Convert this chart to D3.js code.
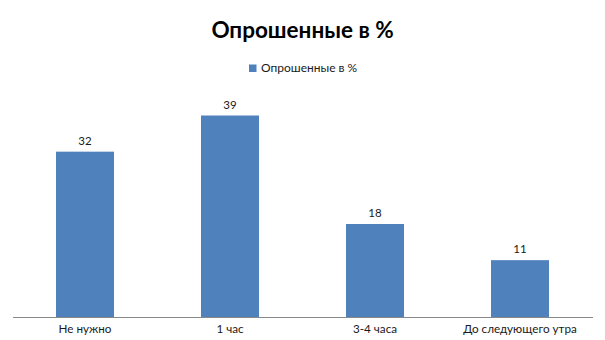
<!DOCTYPE html>
<html>
<head>
<meta charset="utf-8">
<script src="https://cdn.jsdelivr.net/npm/d3@7"></script>
<style>
  body { margin: 0; background: #fff; }
  text { font-family: Lato, "Liberation Sans", sans-serif; fill: #1a1a1a; }
</style>
</head>
<body>
<svg width="605" height="340"></svg>
<script>
const categories = ["Не нужно", "1 час", "3-4 часа", "До следующего утра"];
const values = [32, 39, 18, 11];
const seriesName = "Опрошенные в %";
const title = "Опрошенные в %";

const svg = d3.select("svg");
const barColor = "#4f81bd";

const x = d3.scaleBand()
    .domain(categories)
    .range([12.5, 592.5])
    .paddingInner(0.6)
    .paddingOuter(0.3);

const y = d3.scaleLinear()
    .domain([0, 45])
    .range([317, 84.5]);

svg.append("text")
    .attr("x", 302.5)
    .attr("y", 37.5)
    .attr("text-anchor", "middle")
    .style("font-size", "22.5px")
    .style("font-weight", "bold")
    .style("fill", "#000")
    .text(title);

// legend
const legend = svg.append("g").attr("transform", "translate(249,64.5)");
legend.append("rect")
    .attr("width", 7.5).attr("height", 7.5)
    .attr("fill", barColor);
legend.append("text")
    .attr("x", 12).attr("y", 7.8)
    .style("font-size", "12px")
    .text(seriesName);

svg.selectAll("rect.bar")
    .data(values)
    .enter().append("rect")
    .attr("class", "bar")
    .attr("x", (d, i) => x(categories[i]))
    .attr("y", (d) => y(d))
    .attr("width", x.bandwidth())
    .attr("height", (d) => y(0) - y(d))
    .attr("fill", barColor);

svg.selectAll("text.val")
    .data(values)
    .enter().append("text")
    .attr("class", "val")
    .attr("x", (d, i) => x(categories[i]) + x.bandwidth() / 2)
    .attr("y", (d) => y(d) - 7)
    .attr("text-anchor", "middle")
    .style("font-size", "11.5px")
    .text((d) => d);

const axis = svg.append("g")
    .attr("transform", `translate(0,${y(0)})`)
    .call(d3.axisBottom(x).tickSize(0).tickPadding(8));
axis.select(".domain").attr("stroke", "#888").attr("stroke-width", 1.2);
axis.selectAll("text")
    .style("font-size", "11.7px")
    .style("font-family", "Lato, 'Liberation Sans', sans-serif")
    .attr("fill", "#1a1a1a");
</script>
</body>
</html>
